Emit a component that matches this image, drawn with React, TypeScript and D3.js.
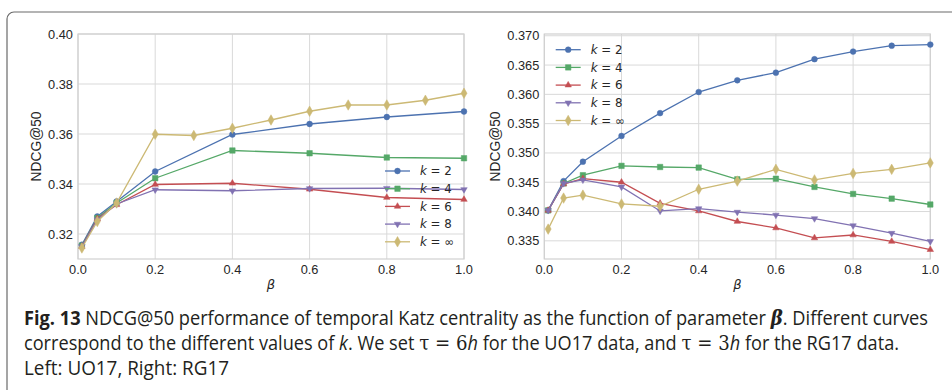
import React from "react";
import * as d3 from "d3";

const labels = ["2", "4", "6", "8", "∞"];
const colors = ["#4C72B0", "#55A868", "#C44E52", "#8172B2", "#CCB974"];
const symbols = [d3.symbolCircle, d3.symbolSquare, d3.symbolTriangle, d3.symbolTriangle, d3.symbolDiamond];
const symbolSizes = [26, 30, 18, 18, 32];
const symbolRot = [0, 0, 0, 180, 0];

const betaShort = [0.01, 0.05, 0.1, 0.2, 0.4, 0.6, 0.8, 1.0];
const betaFull = [0.01, 0.05, 0.1, 0.2, 0.3, 0.4, 0.5, 0.6, 0.7, 0.8, 0.9, 1.0];

// Left: UO17
const uoK2 = [0.3157, 0.327, 0.333, 0.345, 0.3598, 0.364, 0.3668, 0.369];
const uoK4 = [0.3153, 0.3264, 0.3324, 0.3423, 0.3534, 0.3523, 0.3506, 0.3503];
const uoK6 = [0.315, 0.3261, 0.3317, 0.3398, 0.3403, 0.3379, 0.3346, 0.3338];
const uoK8 = [0.315, 0.3257, 0.332, 0.3377, 0.3373, 0.3382, 0.3383, 0.3378];
const uoKInf = [0.3144, 0.325, 0.3324, 0.3599, 0.3594, 0.3623, 0.3656, 0.3691, 0.3716, 0.3716, 0.3735, 0.3763];

// Right: RG17
const rgK2 = [0.3402, 0.3452, 0.3485, 0.3529, 0.3568, 0.3604, 0.3624, 0.3637, 0.366, 0.3673, 0.3683, 0.3685];
const rgK4 = [0.3402, 0.3448, 0.3462, 0.3478, 0.3476, 0.3475, 0.3455, 0.3456, 0.3442, 0.343, 0.3422, 0.3412];
const rgK6 = [0.3402, 0.3447, 0.3456, 0.345, 0.3414, 0.3401, 0.3383, 0.3372, 0.3355, 0.336, 0.3349, 0.3335];
const rgK8 = [0.3402, 0.3448, 0.3454, 0.3442, 0.3401, 0.3405, 0.3399, 0.3394, 0.3388, 0.3376, 0.3363, 0.3349];
const rgKInf = [0.337, 0.3423, 0.3428, 0.3413, 0.3409, 0.3438, 0.3452, 0.3472, 0.3454, 0.3465, 0.3472, 0.3483];

const xTicks = [0, 0.2, 0.4, 0.6, 0.8, 1.0];
const leftYTicks = [0.32, 0.34, 0.36, 0.38, 0.4];
const rightYTicks = [0.335, 0.34, 0.345, 0.35, 0.355, 0.36, 0.365, 0.37];

type Series = { xs: number[]; ys: number[] };

const leftSeries: Series[] = [
  { xs: betaShort, ys: uoK2 },
  { xs: betaShort, ys: uoK4 },
  { xs: betaShort, ys: uoK6 },
  { xs: betaShort, ys: uoK8 },
  { xs: betaFull, ys: uoKInf },
];
const rightSeries: Series[] = [
  { xs: betaFull, ys: rgK2 },
  { xs: betaFull, ys: rgK4 },
  { xs: betaFull, ys: rgK6 },
  { xs: betaFull, ys: rgK8 },
  { xs: betaFull, ys: rgKInf },
];

const TICK_FONT = "'Liberation Sans', Arial, sans-serif";

function Marker({ i, x, y }: { i: number; x: number; y: number }) {
  const p = d3.symbol().type(symbols[i]).size(symbolSizes[i])()!;
  return <path d={p} transform={`translate(${x},${y}) rotate(${symbolRot[i]})`} fill={colors[i]} stroke={colors[i]} strokeWidth={0.5} />;
}

function Panel({
  x0, x1, y0, y1, domainY, yTicks, yFmt, series, legendX, legendY, labelX,
}: {
  x0: number; x1: number; y0: number; y1: number; domainY: [number, number];
  yTicks: number[]; yFmt: string; series: Series[]; legendX: number; legendY: number; labelX: number;
}) {
  const xs = d3.scaleLinear().domain([0, 1]).range([x0, x1]);
  const ys = d3.scaleLinear().domain(domainY).range([y1, y0]);
  const fmt = d3.format(yFmt);
  const line = d3.line<[number, number]>().x((d) => xs(d[0])).y((d) => ys(d[1]));
  return (
    <g>
      <rect x={x0} y={y0} width={x1 - x0} height={y1 - y0} fill="#fff" />
      {xTicks.map((t) => (
        <line key={"gx" + t} x1={xs(t)} x2={xs(t)} y1={y0} y2={y1} stroke="#d9d9d9" strokeWidth={1} />
      ))}
      {yTicks.map((t) => (
        <line key={"gy" + t} x1={x0} x2={x1} y1={ys(t)} y2={ys(t)} stroke="#d9d9d9" strokeWidth={1} />
      ))}
      <rect x={x0} y={y0} width={x1 - x0} height={y1 - y0} fill="none" stroke="#d0d0d0" strokeWidth={1.2} />
      {series.map((s, i) => (
        <g key={"s" + i}>
          <path d={line(s.xs.map((x, j) => [x, s.ys[j]] as [number, number]))!} fill="none" stroke={colors[i]} strokeWidth={1.3} />
          {s.xs.map((x, j) => (
            <Marker key={j} i={i} x={xs(x)} y={ys(s.ys[j])} />
          ))}
        </g>
      ))}
      {xTicks.map((t) => (
        <text key={"tx" + t} x={xs(t)} y={273.5} textAnchor="middle" fontFamily={TICK_FONT} fontSize={12.8} fill="#262626">
          {d3.format(".1f")(t)}
        </text>
      ))}
      {yTicks.map((t) => (
        <text key={"ty" + t} x={x0 - 5} y={ys(t) + 4.5} textAnchor="end" fontFamily={TICK_FONT} fontSize={12.8} fill="#262626">
          {fmt(t)}
        </text>
      ))}
      <text x={(x0 + x1) / 2} y={289} textAnchor="middle" fontFamily="'DejaVu Sans', sans-serif" fontStyle="italic" fontSize={13} fill="#262626">
        β
      </text>
      <text transform={`translate(${labelX},${(y0 + y1) / 2}) rotate(-90)`} textAnchor="middle" dominantBaseline="middle" fontFamily={TICK_FONT} fontSize={13.8} fill="#262626">
        NDCG@50
      </text>
      {labels.map((lab, i) => {
        const ly = legendY + i * 17.7;
        return (
          <g key={"lg" + i}>
            <line x1={legendX} x2={legendX + 25} y1={ly} y2={ly} stroke={colors[i]} strokeWidth={1.3} />
            <Marker i={i} x={legendX + 12.5} y={ly} />
            <text x={legendX + 35} y={ly + 4.3} fontFamily="'DejaVu Sans', sans-serif" fontSize={11.8} fill="#262626">
              <tspan fontStyle="italic">k</tspan>
              <tspan> = {lab}</tspan>
            </text>
          </g>
        );
      })}
    </g>
  );
}

export default function App() {
  return (
    <svg width={952} height={390} style={{ position: "absolute", left: 0, top: 0, background: "#fff" }}>
      <rect x={7} y={12} width={1000} height={500} rx={7} ry={7} fill="#fff" stroke="#6a6a6a" strokeWidth={1.2} />
      <Panel x0={78} x1={464} y0={34} y1={259} domainY={[0.31, 0.4]} yTicks={leftYTicks} yFmt=".2f"
        series={leftSeries} legendX={385} legendY={171} labelX={37} />
      <Panel x0={544.3} x1={930.3} y0={34} y1={259} domainY={[0.3319, 0.3703]} yTicks={rightYTicks} yFmt=".3f"
        series={rightSeries} legendX={555.7} legendY={49.7} labelX={496} />
      <g fontFamily="'Open Sans', 'Noto Sans', sans-serif" fontSize={20} fill="#231f20">
        <text x={24} y={325} textLength={904} lengthAdjust="spacingAndGlyphs">
          <tspan fontWeight="bold">Fig. 13</tspan>
          <tspan>  NDCG@50 performance of temporal Katz centrality as the function of parameter </tspan>
          <tspan fontStyle="italic" fontWeight="bold" fontFamily="'DejaVu Serif', serif">β</tspan>
          <tspan>. Different curves</tspan>
        </text>
        <text x={24} y={350} textLength={875} lengthAdjust="spacingAndGlyphs">
          <tspan>correspond to the different values of </tspan>
          <tspan fontStyle="italic">k</tspan>
          <tspan>. We set </tspan>
          <tspan fontFamily="'DejaVu Serif', serif">τ = 6</tspan>
          <tspan fontStyle="italic">h</tspan>
          <tspan> for the UO17 data, and </tspan>
          <tspan fontFamily="'DejaVu Serif', serif">τ = 3</tspan>
          <tspan fontStyle="italic">h</tspan>
          <tspan> for the RG17 data.</tspan>
        </text>
        <text x={24} y={375} textLength={205} lengthAdjust="spacingAndGlyphs">
          Left: UO17, Right: RG17
        </text>
      </g>
    </svg>
  );
}
